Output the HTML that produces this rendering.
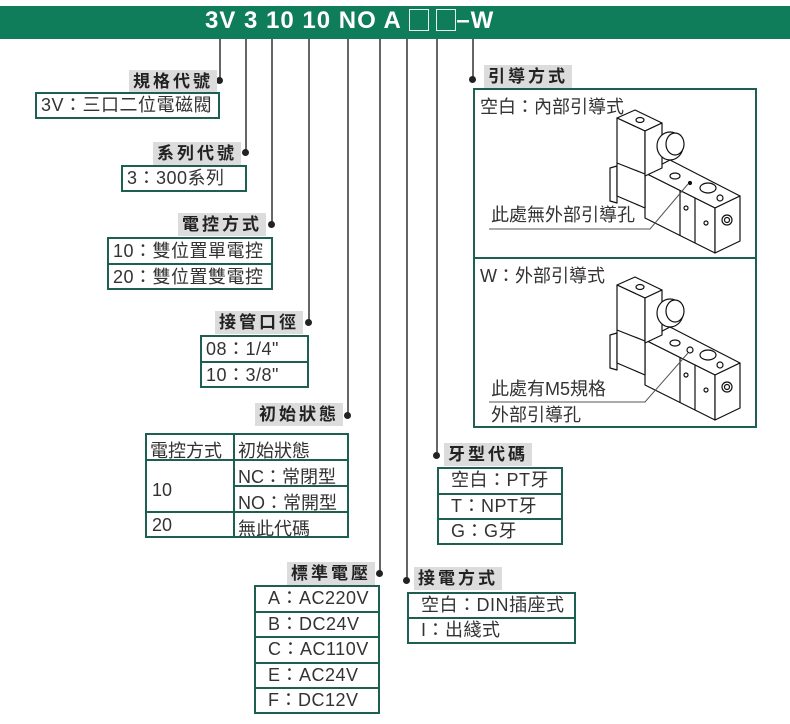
<!DOCTYPE html>
<html><head><meta charset="utf-8"><style>
body{margin:0;width:790px;height:724px;background:#fff;position:relative;overflow:hidden;font-family:"Liberation Sans","Noto Sans CJK TC",sans-serif;color:#333}
.bar{position:absolute;left:0;top:6px;width:790px;height:33px;background:#0f7c5a}
.code{position:absolute;left:205px;top:7px;color:#fff;font-weight:bold;font-size:24px;letter-spacing:1px;white-space:pre}
.sq{display:inline-block;width:18px;height:20px;border:1.5px solid #e8f0ec;vertical-align:-3px;letter-spacing:0}
.lbl{position:absolute;background:#dcdcdc;font-weight:bold;font-size:17px;height:23px;line-height:23px;padding:0 4px;letter-spacing:3px;color:#222}
.box{position:absolute;border:2px solid #1d5f50;box-sizing:border-box;font-size:18px;background:#fff}
.row{border-bottom:2px solid #1d5f50;box-sizing:border-box;padding-left:4px;white-space:nowrap;letter-spacing:0.5px}
.row:last-child{border-bottom:none}
.v{position:absolute;width:2px;background:#666}
.dot{position:absolute;width:7px;height:7px;border-radius:50%;background:#222}
</style></head><body>
<div class="bar"></div>
<div class="code">3V 3 10 10 NO A <span class="sq"></span> <span class="sq"></span>–W</div>

<div class="v" style="left:219px;top:39px;height:42px"></div>
<div class="v" style="left:245px;top:39px;height:114px"></div>
<div class="v" style="left:271px;top:39px;height:186px"></div>
<div class="v" style="left:308px;top:39px;height:284px"></div>
<div class="v" style="left:347px;top:39px;height:377px"></div>
<div class="v" style="left:379px;top:39px;height:535px"></div>
<div class="v" style="left:406px;top:39px;height:542px"></div>
<div class="v" style="left:436px;top:39px;height:417px"></div>
<div class="v" style="left:472px;top:39px;height:41px"></div>

<div class="dot" style="left:216px;top:77px"></div>
<div class="dot" style="left:242px;top:149px"></div>
<div class="dot" style="left:268px;top:221px"></div>
<div class="dot" style="left:305px;top:319px"></div>
<div class="dot" style="left:344px;top:412px"></div>
<div class="dot" style="left:376px;top:570px"></div>
<div class="dot" style="left:403px;top:577px"></div>
<div class="dot" style="left:433px;top:452px"></div>
<div class="dot" style="left:469px;top:76px"></div>

<div class="lbl" style="left:129px;top:70px">規格代號</div>
<div class="box" style="left:35px;top:92px;width:185px;height:27px;line-height:23px"><div class="row">3V：三口二位電磁閥</div></div>

<div class="lbl" style="left:153px;top:142px">系列代號</div>
<div class="box" style="left:121px;top:165px;width:126px;height:27px;line-height:23px"><div class="row">3：300系列</div></div>

<div class="lbl" style="left:178px;top:213px">電控方式</div>
<div class="box" style="left:107px;top:237px;width:166px;height:53px;line-height:24px"><div class="row" style="height:26px">10：雙位置單電控</div><div class="row">20：雙位置雙電控</div></div>

<div class="lbl" style="left:215px;top:311px">接管口徑</div>
<div class="box" style="left:200px;top:335px;width:109px;height:53px;line-height:24px"><div class="row" style="height:26px">08：1/4"</div><div class="row">10：3/8"</div></div>

<div class="lbl" style="left:255px;top:403px">初始狀態</div>
<div class="box" style="left:145px;top:433px;width:204px;height:105px">
<svg width="204" height="105" style="position:absolute;left:-2px;top:-2px">
<line x1="0" y1="27" x2="204" y2="27" stroke="#1d5f50" stroke-width="2"/>
<line x1="88" y1="53" x2="204" y2="53" stroke="#1d5f50" stroke-width="2"/>
<line x1="0" y1="79" x2="204" y2="79" stroke="#1d5f50" stroke-width="2"/>
<line x1="89" y1="0" x2="89" y2="105" stroke="#1d5f50" stroke-width="2"/>
</svg>
<div style="position:absolute;left:3px;top:2px">電控方式</div>
<div style="position:absolute;left:91px;top:2px">初始狀態</div>
<div style="position:absolute;left:91px;top:28px">NC：常閉型</div>
<div style="position:absolute;left:91px;top:54px">NO：常開型</div>
<div style="position:absolute;left:5px;top:45px">10</div>
<div style="position:absolute;left:5px;top:80px">20</div>
<div style="position:absolute;left:91px;top:80px">無此代碼</div>
</div>

<div class="lbl" style="left:287px;top:562px">標準電壓</div>
<div class="box" style="left:254px;top:585px;width:126px;height:129px;line-height:23px">
<div class="row" style="height:25.5px;padding-left:12px">A：AC220V</div>
<div class="row" style="height:25.5px;padding-left:12px">B：DC24V</div>
<div class="row" style="height:25.5px;padding-left:12px">C：AC110V</div>
<div class="row" style="height:25.5px;padding-left:12px">E：AC24V</div>
<div class="row" style="padding-left:12px">F：DC12V</div>
</div>

<div class="lbl" style="left:414px;top:567px">接電方式</div>
<div class="box" style="left:407px;top:592px;width:169px;height:52px;line-height:23px">
<div class="row" style="height:25px;padding-left:12px">空白：DIN插座式</div>
<div class="row" style="padding-left:12px">I：出綫式</div>
</div>

<div class="lbl" style="left:444px;top:443px">牙型代碼</div>
<div class="box" style="left:437px;top:467px;width:126px;height:78px;line-height:23px">
<div class="row" style="height:25.5px;padding-left:12px">空白：PT牙</div>
<div class="row" style="height:25.5px;padding-left:12px">T：NPT牙</div>
<div class="row" style="padding-left:12px">G：G牙</div>
</div>

<div class="lbl" style="left:484px;top:65px">引導方式</div>
<div class="box" style="left:473px;top:88px;width:284px;height:340px">
<div style="position:absolute;left:0;top:167px;width:280px;height:2px;background:#1d5f50"></div>
<div style="position:absolute;left:5px;top:3px">空白：內部引導式</div>
<div style="position:absolute;left:5px;top:172px">W：外部引導式</div>
<div style="position:absolute;left:16px;top:111px">此處無外部引導孔</div>
<div style="position:absolute;left:16px;top:285px">此處有M5規格</div>
<div style="position:absolute;left:16px;top:311px">外部引導孔</div>
</div>

<svg width="790" height="724" style="position:absolute;left:0;top:0">
<g transform="translate(610,108)" fill="#fff" stroke="#111" stroke-width="1.2" stroke-linejoin="round">
<polygon points="0,60 7,58 7,95 0,93"/>
<polygon points="35,65 60,52 130,88 105,100"/>
<polygon points="35,65 105,100 105,145 35,110"/>
<polygon points="105,100 130,88 130,133 105,145"/>
<line x1="70" y1="82" x2="70" y2="128"/>
<line x1="85" y1="90" x2="85" y2="135"/>
<polygon points="7,10 25,2 52,15 35,23"/>
<polygon points="7,10 35,23 35,100 7,88"/>
<polygon points="35,23 52,15 52,60 35,68"/>
<line x1="7" y1="55" x2="35" y2="66"/>
<ellipse cx="30" cy="12" rx="4" ry="2.5"/>
<ellipse cx="60" cy="38" rx="13" ry="14"/>
<ellipse cx="65" cy="36" rx="9" ry="11"/>
<ellipse cx="65" cy="68" rx="5" ry="3"/>
<ellipse cx="98" cy="80" rx="8" ry="5"/>
<circle cx="80" cy="75" r="1.5" fill="#111"/>
<circle cx="76" cy="100" r="2"/>
<circle cx="96" cy="115" r="2"/>
<circle cx="117" cy="112" r="5"/>
<circle cx="117" cy="112" r="2.5"/>
<circle cx="110" cy="90" r="3"/>
</g>
<g transform="translate(610,275)" fill="#fff" stroke="#111" stroke-width="1.2" stroke-linejoin="round">
<polygon points="0,60 7,58 7,95 0,93"/>
<polygon points="35,65 60,52 130,88 105,100"/>
<polygon points="35,65 105,100 105,145 35,110"/>
<polygon points="105,100 130,88 130,133 105,145"/>
<line x1="70" y1="82" x2="70" y2="128"/>
<line x1="85" y1="90" x2="85" y2="135"/>
<polygon points="7,10 25,2 52,15 35,23"/>
<polygon points="7,10 35,23 35,100 7,88"/>
<polygon points="35,23 52,15 52,60 35,68"/>
<line x1="7" y1="55" x2="35" y2="66"/>
<ellipse cx="30" cy="12" rx="4" ry="2.5"/>
<ellipse cx="60" cy="38" rx="13" ry="14"/>
<ellipse cx="65" cy="36" rx="9" ry="11"/>
<ellipse cx="65" cy="68" rx="5" ry="3"/>
<ellipse cx="98" cy="80" rx="8" ry="5"/>
<circle cx="80" cy="75" r="3"/>
<circle cx="76" cy="100" r="2"/>
<circle cx="96" cy="115" r="2"/>
<circle cx="117" cy="112" r="5"/>
<circle cx="117" cy="112" r="2.5"/>
<circle cx="110" cy="90" r="3"/>
</g>
<polyline points="489,229 650,229 688,184" fill="none" stroke="#555" stroke-width="1"/>
<polyline points="489,402 645,402 688,353" fill="none" stroke="#555" stroke-width="1"/>
</svg>
</body></html>
